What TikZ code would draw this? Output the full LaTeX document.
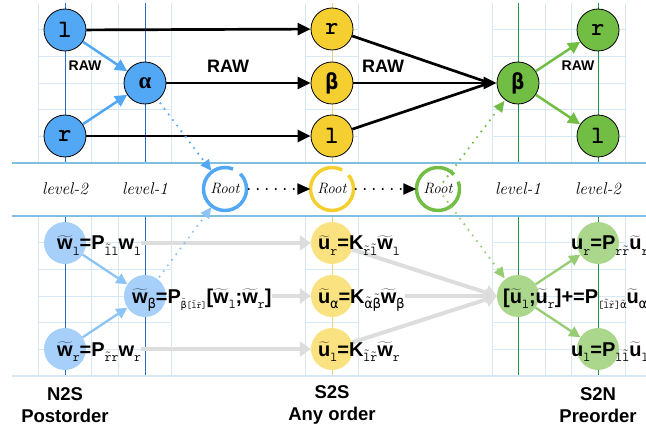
\documentclass[tikz,border=0pt]{standalone}
\usepackage{fontspec}
\setmainfont{Liberation Sans}
\newfontfamily\serifB{Liberation Serif}
\newfontfamily\lmr{Latin Modern Roman}
\newfontfamily\gk{DejaVu Sans Mono}
\usetikzlibrary{arrows.meta}
\pgfdeclarelayer{gridlayer}
\pgfdeclarelayer{under}
\pgfsetlayers{gridlayer,under,main}
\definecolor{nblue}{RGB}{82,168,245}
\definecolor{nyellow}{RGB}{245,207,48}
\definecolor{ngreen}{RGB}{114,190,69}
\definecolor{pblue}{RGB}{166,208,250}
\definecolor{pyellow}{RGB}{250,226,128}
\definecolor{pgreen}{RGB}{170,215,140}
\definecolor{apblue}{RGB}{140,196,245}
\definecolor{apgreen}{RGB}{150,205,115}
\definecolor{graya}{RGB}{221,221,221}
\definecolor{gridc}{RGB}{214,232,245}
\definecolor{sepc}{RGB}{125,190,225}
\definecolor{dblue}{RGB}{40,110,190}
\definecolor{dgreen}{RGB}{30,150,60}
\definecolor{dyellow}{RGB}{236,214,120}
\newcommand\chanc{\lmr\itshape}
\newcommand\TT[1]{\ensuremath{\widetilde{\hbox{#1}}}}
\newcommand\ST[1]{\ensuremath{\tilde{\hbox{#1}}}}
\newcommand\SB[2][13.5]{\raisebox{-0.5ex}{\fontsize{#1}{#1}\selectfont\ttfamily\mdseries #2}}
\begin{document}
\begin{tikzpicture}[x=1pt,y=-1pt,
  gridl/.style={draw=gridc,line width=0.8pt},
  topnode/.style={circle,draw=black,line width=0.8pt,minimum size=42pt,inner sep=0pt,font=\fontsize{25}{25}\selectfont\ttfamily\bfseries},
  grknode/.style={font=\fontsize{22}{22}\selectfont\gk\bfseries},
  bnode/.style={circle,minimum size=42pt,inner sep=0pt},
  rootring/.style={circle,minimum size=43pt,inner sep=0pt,font=\fontsize{15}{15}\selectfont\chanc},
  formula/.style={anchor=base west,inner sep=0pt,font=\fontsize{20}{20}\selectfont\bfseries},
  lvl/.style={font=\fontsize{17}{17}\selectfont\chanc},
  rawl/.style={font=\fontsize{14}{14}\selectfont\bfseries},
  rawb/.style={font=\fontsize{18}{18}\selectfont\bfseries},
  blueA/.style={draw=nblue,line width=2.5pt,-{Triangle[length=12pt,width=12pt]}},
  greenA/.style={draw=ngreen,line width=2.5pt,-{Triangle[length=12pt,width=12pt]}},
  blackA/.style={draw=black,line width=2.7pt,-{Triangle[length=13pt,width=12pt]}},
  grayA/.style={draw=graya,line width=4pt,-{Triangle[length=11pt,width=15pt]}},
  pblueA/.style={draw=apblue,line width=2.3pt,-{Triangle[length=11pt,width=11pt]}},
  pgreenA/.style={draw=apgreen,line width=2.3pt,-{Triangle[length=11pt,width=11pt]}},
  dotA/.style={line width=2.4pt,line cap=round,dash pattern=on 0pt off 7pt},
  ttl/.style={font=\fontsize{18.5}{22}\selectfont\bfseries,align=center}
]
\useasboundingbox (0,0) rectangle (646,433);
\begin{pgfonlayer}{gridlayer}
\fill[white] (0,0) rectangle (646,433);
\foreach \x in {38,91.5,118,171.5,305,358.5,492,545,571.5,625} {
  \draw[gridl] (\x,3) -- (\x,163); \draw[gridl] (\x,216) -- (\x,376);}
\foreach \y in {29.7,56.4,83,109.7,136.4,242.7,269.4,296,322.7,349.4} {
  \draw[gridl] (38,\y) -- (171.5,\y);
  \draw[gridl] (305,\y) -- (358.5,\y);
  \draw[gridl] (492,\y) -- (625,\y);}
\foreach \x in {65,145} {\draw[dblue,line width=0.8pt] (\x,3) -- (\x,163); \draw[dblue,line width=0.8pt] (\x,216) -- (\x,376);}
\draw[dyellow,line width=1pt] (332,3) -- (332,163); \draw[dyellow,line width=1pt] (332,216) -- (332,376);
\foreach \x in {518,598} {\draw[dgreen,line width=0.8pt] (\x,3) -- (\x,163); \draw[dgreen,line width=0.8pt] (\x,216) -- (\x,376);}
\draw[sepc,line width=1.2pt] (12,163) -- (646,163);
\draw[sepc,line width=1.2pt] (12,216) -- (646,216);
\draw[gridc,line width=1.2pt] (12,376) -- (646,376);
\end{pgfonlayer}

% bottom circles
\node[bnode,fill=pblue] (BW1) at (65,243) {};
\node[bnode,fill=pblue] (BWB) at (145,296) {};
\node[bnode,fill=pblue] (BWR) at (65,349) {};
\node[bnode,fill=pyellow] (YU1) at (332,243) {};
\node[bnode,fill=pyellow] (YU2) at (332,296) {};
\node[bnode,fill=pyellow] (YU3) at (332,349) {};
\node[bnode,fill=pgreen] (GU0) at (518,296) {};
\node[bnode,fill=pgreen] (GU1) at (598,243) {};
\node[bnode,fill=pgreen] (GU2) at (598,349) {};

% formulas
\node[formula] (F1) at (57,250) {\TT{w}\SB{l}=P\SB{\ST{l}l}w\SB{l}};
\node[formula] (FB) at (132,303) {\TT{w}\SB{{\gk β}}=P\SB[9.5]{\ST{{\gk β}}[\ST{l}\ST{r}]}[\TT{w}\SB{l};\TT{w}\SB{r}]};
\node[formula] (FR) at (57,356) {\TT{w}\SB{r}=P\SB{\ST{r}r}w\SB{r}};
\node[formula] (Y1) at (318,250) {\TT{u}\SB{r}=K\SB{\ST{r}\ST{l}}\TT{w}\SB{l}};
\node[formula] (Y2) at (318,303) {\TT{u}\SB{{\gk α}}=K\SB{\ST{{\gk α}}\ST{{\gk β}}}\TT{w}\SB{{\gk β}}};
\node[formula] (Y3) at (318,356) {\TT{u}\SB{l}=K\SB{\ST{l}\ST{r}}\TT{w}\SB{r}};
\node[formula] (G1f) at (571,250) {u\SB{r}=P\SB{r\ST{r}}\TT{u}\SB{r}};
\node[formula] (G0f) at (503,303) {[\TT{u}\SB{l};\TT{u}\SB{r}]+=P\SB[10.5]{[\ST{l}\ST{r}]\ST{{\gk α}}}\TT{u}\SB{{\gk α}}};
\node[formula] (G2f) at (571,356) {u\SB{l}=P\SB{l\ST{l}}\TT{u}\SB{l}};

% gray arrows (beneath circles and texts)
\begin{pgfonlayer}{under}
\draw[grayA] (F1.east |- BW1) -- (YU1.west);
\draw[grayA] (FB.east |- BWB) -- (YU2.west);
\draw[grayA] (FR.east |- BWR) -- (YU3.west);
\draw[grayA] (YU1) -- (GU0.west);
\draw[grayA] (Y2.east |- YU2) -- (GU0.west);
\draw[grayA] (YU3) -- (GU0.west);
\end{pgfonlayer}

% pale arrows
\draw[pblueA] (BW1) -- (BWB);
\draw[pblueA] (BWR) -- (BWB);
\draw[pgreenA] (GU0) -- (GU1);
\draw[pgreenA] (GU0) -- (GU2);

% top nodes
\node[topnode,fill=nblue] (L1) at (65,30) {l};
\node[topnode,fill=nblue,font=\fontsize{23}{23}\selectfont\serifB\bfseries] (A) at (145,83) {α};
\node[topnode,fill=nblue] (R1) at (65,136) {r};
\node[topnode,fill=nyellow] (YR) at (332,29) {r};
\node[topnode,fill=nyellow,grknode] (YB) at (332,83) {β};
\node[topnode,fill=nyellow] (YL) at (332,136) {l};
\node[topnode,fill=ngreen,grknode] (G0) at (518,83) {β};
\node[topnode,fill=ngreen] (G1) at (598,30) {r};
\node[topnode,fill=ngreen] (G2) at (598,136) {l};

\draw[blueA] (L1) -- (A);
\draw[blueA] (R1) -- (A);
\draw[blackA] (L1) -- (YR);
\draw[blackA] (A) -- (YB);
\draw[blackA] (R1) -- (YL);
\coordinate (GW) at ([xshift=-7pt]G0.west);
\draw[black,line width=2.7pt] (YR) -- (GW);
\draw[black,line width=2.7pt] (YL) -- (GW);
\draw[blackA] (YB) -- (G0);
\draw[greenA] (G0) -- (G1);
\draw[greenA] (G0) -- (G2);

\node[rawl] at (85,66) {RAW};
\node[rawb] at (228,66) {RAW};
\node[rawb] at (383,66) {RAW};
\node[rawl] at (578,66) {RAW};

% middle band
\node[rootring] (RB) at (225,189) {Root};
\node[rootring] (RY) at (332,189) {Root};
\node[rootring] (RG) at (438,189) {Root};
\draw[nblue,line width=3.5pt] (RB.center) ++(68:21.5pt) arc[start angle=68,end angle=405,radius=21.5pt];
\draw[nyellow,line width=3.5pt] (RY.center) ++(62:21.5pt) arc[start angle=62,end angle=400,radius=21.5pt];
\draw[ngreen,line width=3.5pt] (RG.center) ++(42:21.5pt) arc[start angle=42,end angle=380,radius=21.5pt];
\node[lvl] at (65,189) {level-2};
\node[lvl] at (145,189) {level-1};
\node[lvl] at (518,189) {level-1};
\node[lvl] at (598,189) {level-2};

% dotted arrows
\draw[dotA,nblue,-{Triangle[length=11pt,width=10pt]},shorten <=4pt,shorten >=1pt] (A) -- (RB);
\draw[dotA,apblue,-{Triangle[length=11pt,width=10pt]},shorten <=3pt,shorten >=1pt] (BWB) -- (RB);
\draw[dotA,black,line width=2.2pt,dash pattern=on 0pt off 9pt,-{Triangle[length=13pt,width=11pt]},shorten <=2pt] (RB) -- (RY);
\draw[dotA,black,line width=2.2pt,dash pattern=on 0pt off 9pt,-{Triangle[length=13pt,width=11pt]},shorten <=2pt] (RY) -- (RG);
\draw[dotA,ngreen,-{Triangle[length=11pt,width=10pt]},shorten <=9pt,shorten >=1pt] (RG.center) -- (G0);
\draw[dotA,apgreen,-{Triangle[length=11pt,width=10pt]},shorten <=9pt,shorten >=1pt] (RG.center) -- (GU0);

% titles
\node[ttl] (T1) at (65,405) {N2S\\Postorder};
\node[ttl] (T2) at (332,405) {S2S\\Any order};
\node[ttl] (T3) at (598,405) {S2N\\Preorder};
\end{tikzpicture}
\end{document}
